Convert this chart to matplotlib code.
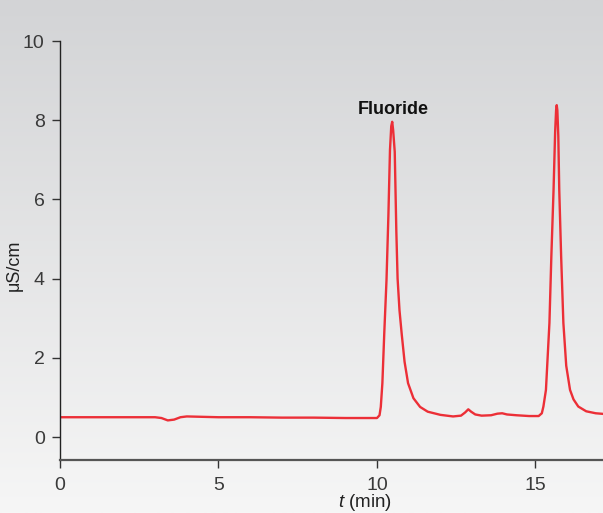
import matplotlib.pyplot as plt
import numpy as np

# chromatogram
t_min = [0.0, 0.5, 1.0, 2.0, 3.0, 3.2, 3.4, 3.6, 3.8, 4.0, 4.5, 5.0, 6.0, 7.0, 8.0, 9.0, 9.8,
         10.0, 10.08, 10.12, 10.17, 10.23, 10.3, 10.36, 10.41, 10.45, 10.48, 10.51, 10.56,
         10.61, 10.65, 10.71, 10.78, 10.87, 10.98, 11.15, 11.36, 11.6, 12.0, 12.4, 12.65,
         12.78, 12.88, 12.97, 13.1, 13.3, 13.6, 13.8, 13.95, 14.1, 14.4, 14.8, 15.1, 15.2,
         15.25, 15.33, 15.44, 15.5, 15.57, 15.62, 15.65, 15.67, 15.69, 15.72, 15.75, 15.81,
         15.88, 15.97, 16.09, 16.2, 16.35, 16.6, 16.9, 17.2]
signal = [0.5, 0.5, 0.5, 0.5, 0.5, 0.48, 0.42, 0.44, 0.5, 0.52, 0.51, 0.5, 0.5, 0.49, 0.49,
          0.48, 0.48,
          0.48, 0.55, 0.76, 1.36, 2.63, 3.96, 5.6, 7.25, 7.85, 7.96, 7.75, 7.2,
          5.2, 4.0, 3.2, 2.6, 1.9, 1.36, 0.98, 0.76, 0.64, 0.56, 0.52, 0.54,
          0.62, 0.7, 0.64, 0.57, 0.54, 0.55, 0.59, 0.6, 0.57, 0.55, 0.53, 0.53, 0.6,
          0.77, 1.19, 2.88, 4.55, 6.24, 7.7, 8.25, 8.38, 8.25, 7.6, 6.24, 4.55,
          2.88, 1.8, 1.19, 0.95, 0.77, 0.65, 0.6, 0.58]

x_ticks = [0, 5, 10, 15]
y_ticks = [0, 2, 4, 6, 8, 10]

plt.rcParams['mathtext.fontset'] = 'custom'
plt.rcParams['mathtext.it'] = 'Liberation Sans:italic'
plt.rcParams['mathtext.rm'] = 'Liberation Sans'

fig = plt.figure(figsize=(6.03, 5.13), dpi=100)

# gradient background
bg = fig.add_axes([0, 0, 1, 1], zorder=-1)
grad = np.linspace(0, 1, 256).reshape(-1, 1)
bg.imshow(grad, aspect='auto', cmap=plt.matplotlib.colors.LinearSegmentedColormap.from_list(
    'bg', ['#d3d4d6', '#f6f6f6']), extent=[0, 1, 0, 1])
bg.axis('off')

ax = fig.add_axes([60 / 603, 1 - 460 / 513, 1 - 60 / 603, 419 / 513])
ax.patch.set_alpha(0)
ax.plot(t_min, signal, color='#ec2f37', lw=1.7, solid_joinstyle='round')

ax.set_xlim(0, 17.13)
ax.set_ylim(-0.58, 10)
ax.set_xticks(x_ticks)
ax.set_yticks(y_ticks)

for s in ['top', 'right']:
    ax.spines[s].set_visible(False)
ax.spines['left'].set_color('#222222')
ax.spines['bottom'].set_color('#555555')
ax.spines['left'].set_linewidth(1.0)
ax.spines['bottom'].set_linewidth(1.6)
ax.tick_params(direction='out', length=6, width=1, color='#333333',
               labelsize=14, labelcolor='#3a3a3a')
ax.tick_params(axis='x', pad=6)
ax.tick_params(axis='y', pad=5)

for lab in ax.get_xticklabels() + ax.get_yticklabels():
    lab.set_family('Liberation Sans')

ax.set_ylabel('μS/cm', fontsize=13, family='Liberation Sans', color='#222222')
ax.yaxis.set_label_coords(-0.068, 0.465)
ax.set_xlabel('$t$ (min)', fontsize=13.5, family='Liberation Sans', color='#222222')
ax.xaxis.set_label_coords((365 - 60) / 543, -0.077)

ax.text(10.52, 8.28, 'Fluoride', ha='center', va='center', fontsize=13,
        fontweight='bold', family='Liberation Sans', color='#111111')

fig.savefig('out.png', dpi=100)
